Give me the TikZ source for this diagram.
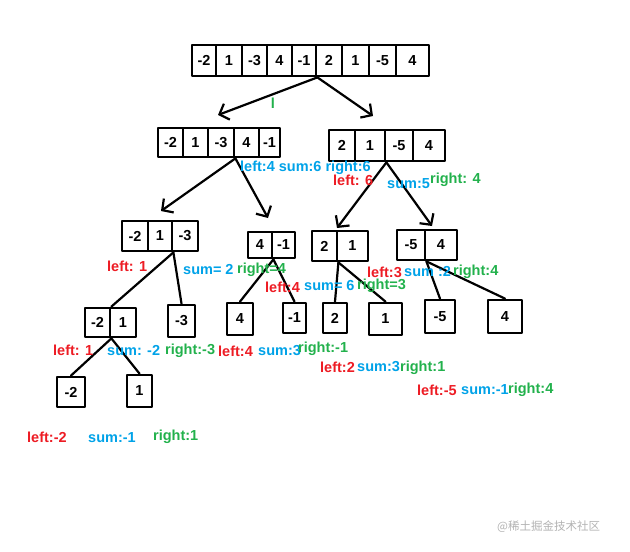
\documentclass[tikz,border=0pt]{standalone}
\usepackage{fontspec}
\setmainfont{Liberation Sans}
\newfontfamily\cjk{Noto Sans CJK SC}
\usetikzlibrary{arrows.meta}
\definecolor{paintred}{RGB}{237,28,36}
\definecolor{paintblue}{RGB}{0,162,232}
\definecolor{paintgreen}{RGB}{34,177,76}
\begin{document}
\begin{tikzpicture}[x=1pt, y=-1pt, line join=round, line cap=round, >={Straight Barb[length=8pt,width=17pt]},
		font=\fontsize{14.5}{16}\selectfont\bfseries,
		cell/.style={draw, line width=2.8pt, inner sep=0pt},
		edge/.style={line width=2.2pt},
		lefttxt/.style={anchor=west, inner sep=0pt, text=paintred},
		sumtxt/.style={anchor=west, inner sep=0pt, text=paintblue},
		righttxt/.style={anchor=west, inner sep=0pt, text=paintgreen}]
		\useasboundingbox (0,0) rectangle (630,552);
		% arrays
		\foreach \l/\r/\v [count=\i] in {192/216/-2, 216/242/1, 242/267/-3, 267/292/4, 292/316/-1, 316/342/2, 342/369/1, 369/396/-5, 396/429/4}
			\node[cell, minimum width={(\r-\l)*1pt}, minimum height=31pt] (a\i) at ({(\l+\r)/2}, 60.5) {\v};
		\foreach \l/\r/\v [count=\i] in {158/183/-2, 183/208/1, 208/234/-3, 234/259/4, 259/280/-1}
			\node[cell, minimum width={(\r-\l)*1pt}, minimum height=29pt] (b\i) at ({(\l+\r)/2}, 142.5) {\v};
		\foreach \l/\r/\v [count=\i] in {329/355/2, 355/385/1, 385/413/-5, 413/445/4}
			\node[cell, minimum width={(\r-\l)*1pt}, minimum height=31pt] (c\i) at ({(\l+\r)/2}, 145.5) {\v};
		\foreach \l/\r/\v [count=\i] in {122/148/-2, 148/172/1, 172/198/-3}
			\node[cell, minimum width={(\r-\l)*1pt}, minimum height=30pt] (d\i) at ({(\l+\r)/2}, 236) {\v};
		\foreach \l/\r/\v [count=\i] in {248/272/4, 272/295/-1}
			\node[cell, minimum width={(\r-\l)*1pt}, minimum height=26pt] (e\i) at ({(\l+\r)/2}, 245) {\v};
		\foreach \l/\r/\v [count=\i] in {312/337/2, 337/368/1}
			\node[cell, minimum width={(\r-\l)*1pt}, minimum height=30pt] (f\i) at ({(\l+\r)/2}, 246) {\v};
		\foreach \l/\r/\v [count=\i] in {397/425/-5, 425/457/4}
			\node[cell, minimum width={(\r-\l)*1pt}, minimum height=30pt] (g\i) at ({(\l+\r)/2}, 245) {\v};
		\foreach \l/\r/\v [count=\i] in {85/110/-2, 110/136/1}
			\node[cell, minimum width={(\r-\l)*1pt}, minimum height=29pt] (h\i) at ({(\l+\r)/2}, 322.5) {\v};
		% single elements
		\foreach \x/\y/\w/\h/\v [count=\i] in {181.5/321/27/32/-3, 240/319/26/32/4, 294.5/318/23/30/-1, 335/318/24/30/2, 385.5/319/33/32/1, 440/316.5/30/33/-5, 505/316.5/34/33/4, 71/392/28/30/-2, 139.5/391/25/32/1}
			\node[cell, minimum width=\w pt, minimum height=\h pt] (s\i) at (\x,\y) {\v};
		% arrows
		\coordinate (tA1) at (218,115);
		\coordinate (tA2) at (373,116);
		\coordinate (tB1) at (161,211);
		\coordinate (tB2) at (268,218);
		\coordinate (tC1) at (337,228);
		\coordinate (tC2) at (432,226);
		\draw[edge, ->] (a5.south east) -- (tA1);
		\draw[edge, ->] (a5.south east) -- (tA2);
		\draw[edge, ->] (b3.south east) -- (tB1);
		\draw[edge, ->] (b3.south east) -- (tB2);
		\draw[edge, ->] (c2.south east) -- (tC1);
		\draw[edge, ->] (c2.south east) -- (tC2);
		\draw[edge] (d2.south east) -- (h1.north east);
		\draw[edge] (d2.south east) -- (s1.north);
		\draw[edge] (e1.south east) -- (s2.north);
		\draw[edge] (e1.south east) -- (s3.north);
		\draw[edge] (f1.south east) -- (s4.north);
		\draw[edge] (f1.south east) -- (s5.north);
		\draw[edge] (g1.south east) -- (s6.north);
		\draw[edge] (g1.south east) -- (s7.north);
		\draw[edge] (h1.south east) -- (s8.north);
		\draw[edge] (h1.south east) -- (s9.north);
		% labels
		\node[text=paintgreen] (mid) at (273,103) {l};
		\node[sumtxt] (t1) at (240,168) {left:4 sum:6 right:6};
		\node[lefttxt] (l2) at (333,180) {left: 6};
		\node[sumtxt] (m2) at (387,184) {sum:5};
		\node[righttxt] (r2) at (430,180) {right: 4};
		\node[lefttxt] (l3) at (107,266) {left: 1};
		\node[sumtxt] (m3) at (183,270) {sum= 2};
		\node[righttxt] (r3) at (237,270) {right=4};
		\node[lefttxt] (l4) at (265,287) {left:4};
		\node[sumtxt] (m4) at (304,286) {sum= 6};
		\node[righttxt] (r4) at (357,286) {right=3};
		\node[lefttxt] (l5) at (367,272) {left:3};
		\node[sumtxt] (m5) at (404,272) {sum :2};
		\node[righttxt] (r5) at (453,272) {right:4};
		\node[lefttxt] (l6) at (53,350) {left: 1};
		\node[sumtxt] (m6) at (107,351) {sum: -2};
		\node[righttxt] (r6) at (165,351) {right:-3};
		\node[lefttxt] (l7) at (218,351) {left:4};
		\node[sumtxt] (m7) at (258,351) {sum:3};
		\node[righttxt] (r7) at (298,349) {right:-1};
		\node[lefttxt] (l8) at (320,367) {left:2};
		\node[sumtxt] (m8) at (357,367) {sum:3};
		\node[righttxt] (r8) at (400,368) {right:1};
		\node[lefttxt] (l9) at (417,390) {left:-5};
		\node[sumtxt] (m9) at (461,390) {sum:-1};
		\node[righttxt] (r9) at (508,390) {right:4};
		\node[lefttxt] (l10) at (27,437) {left:-2};
		\node[sumtxt] (m10) at (88,438) {sum:-1};
		\node[righttxt] (r10) at (153,437) {right:1};
		\node[anchor=west, inner sep=0pt, text=black!30, font=\fontsize{11.5}{13}\selectfont\cjk] (wm) at (497,527) {@稀土掘金技术社区};
	\end{tikzpicture}
\end{document}
